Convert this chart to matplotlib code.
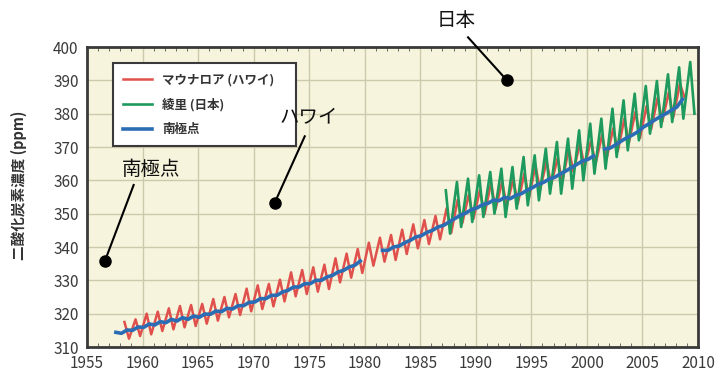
import numpy as np
import matplotlib.pyplot as plt

plt.rcParams['font.family'] = ['Noto Sans CJK JP', 'DejaVu Sans']

# マウナロア (ハワイ): 毎年の極大(5月ごろ)と極小(10月ごろ) [ppm]
ml_years = list(range(1958, 2009))
ml_max = [317.5, 318.3, 320.0, 320.6, 321.6, 322.3, 322.6, 322.9, 324.4, 325.0,
          325.9, 327.5, 328.5, 328.9, 330.2, 332.4, 333.1, 333.9, 334.7, 336.6,
          338.0, 339.4, 341.3, 342.8, 343.6, 345.2, 346.8, 348.1, 349.3, 351.6,
          354.2, 355.7, 357.1, 359.1, 359.6, 360.3, 362.1, 364.4, 365.7, 366.7,
          369.5, 371.0, 371.8, 373.6, 375.6, 378.5, 380.6, 382.3, 384.8, 386.4,
          389.0]
ml_min = [312.5, 313.3, 313.8, 314.8, 315.3, 315.9, 316.3, 317.0, 317.9, 318.9,
          319.6, 320.7, 321.4, 322.2, 323.7, 325.2, 325.9, 326.6, 327.4, 329.4,
          330.8, 332.2, 334.4, 335.6, 336.1, 337.9, 339.6, 340.9, 342.3, 344.2,
          347.1, 348.4, 349.8, 351.4, 352.3, 353.0, 354.7, 357.1, 358.8, 359.5,
          362.6, 364.2, 365.0, 366.6, 368.7, 371.3, 372.7, 375.3, 377.6, 379.0,
          385.0]

# 綾里 (日本): 極大(4月ごろ)と極小(8〜9月ごろ) [ppm]
ry_years = list(range(1987, 2010))
ry_max = [357.0, 359.5, 360.5, 361.5, 362.5, 363.5, 364.0, 367.0, 367.5, 369.5,
          371.5, 372.5, 375.0, 377.0, 378.5, 381.5, 384.0, 386.0, 388.3, 389.8,
          391.8, 393.9, 395.5]
ry_min = [344.0, 346.0, 347.5, 349.0, 350.0, 349.0, 351.5, 352.5, 354.0, 356.0,
          356.0, 357.5, 360.0, 362.0, 363.5, 367.0, 369.0, 372.0, 374.0, 376.0,
          377.5, 378.5, 380.0]

# 南極点: 年内の低い値(初め)と高い値(後半) [ppm]、欠測は nan
sp_years = list(range(1957, 2009))
sp_lo = [np.nan, 314.1, 315.0, 315.9, 316.6, 317.3, 317.8, 318.3, 318.9, 319.8,
         320.6, 321.4, 322.4, 323.5, 324.5, 325.5, 327.0, 328.0, 329.0, 330.0,
         331.5, 333.0, 334.5, np.nan, np.nan, 339.0, 340.3, 342.0, 343.4, 345.0,
         346.5, 348.5, 350.2, 351.7, 353.1, 353.9, 354.5, 356.0, 357.8, 359.4,
         360.9, 362.8, 364.8, 366.3, np.nan, 369.7, 371.8, 373.6, 376.0, 378.1,
         380.0, 382.0]
sp_hi = [314.4, 315.1, 316.0, 316.9, 317.6, 318.3, 318.8, 319.3, 319.9, 320.8,
         321.6, 322.4, 323.4, 324.5, 325.5, 326.5, 328.0, 329.0, 330.0, 331.0,
         332.5, 334.0, 335.8, np.nan, 339.0, 340.0, 341.3, 343.0, 344.4, 346.0,
         347.5, 349.5, 351.2, 352.7, 354.1, 354.9, 355.5, 357.0, 358.8, 360.4,
         361.9, 363.8, 365.8, 367.3, 369.4, 370.7, 372.8, 374.6, 377.0, 379.1,
         381.0, 384.3]

labels = ['マウナロア (ハワイ)', '綾里 (日本)', '南極点']
colors = ['#e0504c', '#1e9a5e', '#2b6db4']


def zigzag(years, first, second, off1, off2):
    """年ごとの2つの値を時間順に並べる"""
    y = np.asarray(years, dtype=float)
    t = np.column_stack([y + off1, y + off2]).ravel()
    v = np.column_stack([first, second]).ravel()
    return t, v


fig = plt.figure(figsize=(7.22, 3.71), dpi=100)
ax = fig.add_axes([87 / 722, 1 - 347 / 371, 611 / 722, 300 / 371])
ax.set_facecolor('#f6f4dc')

t, v = zigzag(ml_years, ml_max, ml_min, 0.37, 0.78)
ax.plot(t, v, color=colors[0], lw=1.8, label=labels[0], zorder=3)
t, v = zigzag(ry_years, ry_max, ry_min, 0.30, 0.68)
ax.plot(t, v, color=colors[1], lw=1.9, label=labels[1], zorder=4)
t, v = zigzag(sp_years, sp_lo, sp_hi, 0.10, 0.60)
ax.plot(t, v, color=colors[2], lw=2.6, label=labels[2], zorder=5)

ax.set_xlim(1955, 2010)
ax.set_ylim(310, 400)
ax.set_xticks(np.arange(1955, 2011, 5))
ax.set_yticks(np.arange(310, 401, 10))
ax.set_xticks(np.arange(1955, 2011, 1), minor=True)
ax.grid(which='major', color='#cdc9ad', lw=1.0, zorder=0)
ax.tick_params(which='both', direction='in', top=True, right=False,
               color='#555555', labelcolor='#3a3a3a', labelsize=11)
ax.tick_params(which='major', length=0, pad=6)
ax.tick_params(axis='x', which='minor', length=3, width=0.6)
for s in ax.spines.values():
    s.set_color('#3a3a3a')
    s.set_linewidth(2)

leg = ax.legend(loc='upper left', bbox_to_anchor=(0.033, 0.70, 0.319, 0.267),
                mode='expand', fancybox=False, framealpha=1, edgecolor='#3a3a3a',
                handlelength=2.3, labelspacing=0.95, borderpad=0.8,
                prop={'size': 9, 'weight': 'bold'})
leg.get_frame().set_linewidth(1.5)
for txt in leg.get_texts():
    txt.set_color('#333333')

fig.text(0.026, 0.50, '二酸化炭素濃度 (ppm)', rotation=90, ha='center',
         va='center', fontsize=10.5, weight='bold', color='#333333')

# 地点名の注記
notes = [('日本', (1988.2, 407.9), (1989.3, 402.9), (1992.8, 390.0)),
         ('ハワイ', (1975.0, 378.9), (1974.6, 373.2), (1971.9, 353.3)),
         ('南極点', (1960.8, 363.4), (1959.2, 358.6), (1956.6, 335.7))]
for name, pos, start, dot in notes:
    ax.text(pos[0], pos[1], name, fontsize=14, ha='center', va='center',
            color='#111111', clip_on=False, zorder=6)
    ax.plot([start[0], dot[0]], [start[1], dot[1]], color='black', lw=1.5,
            clip_on=False, zorder=6)
    ax.plot(dot[0], dot[1], 'o', color='black', ms=8, clip_on=False, zorder=6)

fig.savefig('out.png', dpi=100)
